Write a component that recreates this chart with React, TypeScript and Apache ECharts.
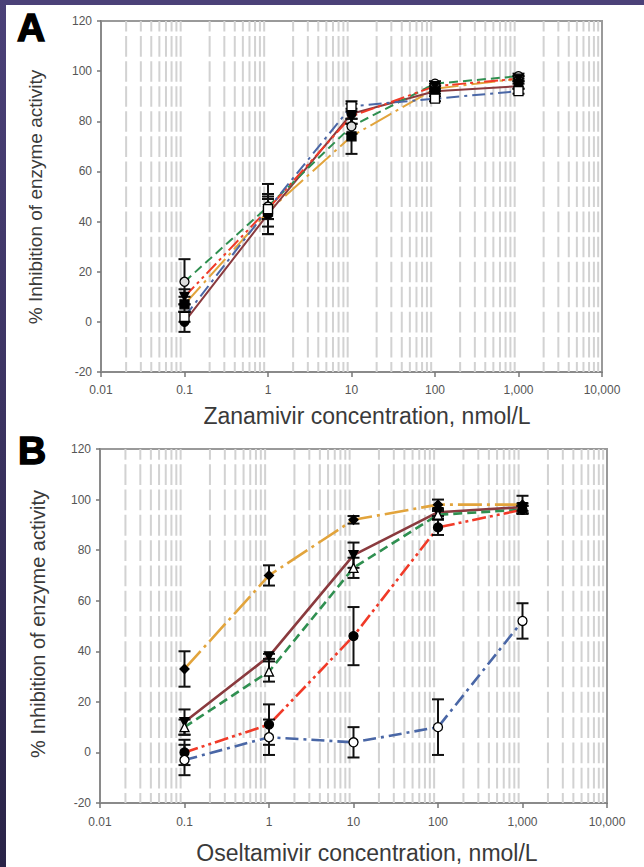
import React, { useEffect, useRef } from 'react';
import * as echarts from 'echarts';

// ---------- data ----------
const concentrations = [0.1, 1, 10, 100, 1000];
const xTickLabels = ['0.01', '0.1', '1', '10', '100', '1,000', '10,000'];
const gridDecades = [0.01, 0.1, 1, 10, 100, 1000];
const gridMultipliers = [2, 3, 4, 5, 6, 7, 8, 9];

// Panel A – Zanamivir
const zanGreen = [16, 46, 78, 95, 98];
const zanGreenErr = [9, 5, 3, 1, 1];
const zanRed = [10, 45, 82, 94, 97];
const zanRedErr = [3, 4, 3, 1, 1];
const zanOrange = [7, 44, 74, 93, 97];
const zanOrangeErr = [3, 6, 7, 1, 1];
const zanBlue = [2, 45, 86, 89, 92];
const zanBlueErr = [2, 10, 2, 1, 1];
const zanBrown = [0, 43, 83, 92, 94];
const zanBrownErr = [4, 8, 4, 1, 1];

// Panel B – Oseltamivir
const oseOrange = [33, 70, 92, 98, 98];
const oseOrangeErr = [7, 4, 1.5, 2, 3.5];
const oseBrown = [12, 38, 78, 95, 97];
const oseBrownErr = [5, 1, 5, 1.5, 1.5];
const oseGreen = [10, 32, 73, 94, 96];
const oseGreenErr = [3, 4, 4, 1.5, 1.5];
const oseRed = [0, 11, 46, 89, 96];
const oseRedErr = [5, 8, 11.5, 3, 1.5];
const oseBlue = [-3, 6, 4, 10, 52];
const oseBlueErr = [6, 7, 6, 11, 7];

// ---------- styles ----------
const FONT = 'Liberation Sans, Arial, Helvetica, sans-serif';
const styles: Record<string, any> = {
  green: { color: '#2f8f50', dash: [9, 5] },
  red: { color: '#f03a28', dash: [14, 4, 3, 4, 3, 4] },
  orange: { color: '#e2a43c', dash: [24, 5, 3, 5] },
  blue: { color: '#4a67a6', dash: [13, 5, 3, 5] },
  brown: { color: '#8a3a3e', dash: 'solid' },
};

type Spec = { key: string; y: number[]; err: number[]; symbol: string; fill: string; rotate?: number };

const panelA: Spec[] = [
  { key: 'orange', y: zanOrange, err: zanOrangeErr, symbol: 'rect', fill: '#000' },
  { key: 'brown', y: zanBrown, err: zanBrownErr, symbol: 'circle', fill: '#000' },
  { key: 'green', y: zanGreen, err: zanGreenErr, symbol: 'circle', fill: '#ddd' },
  { key: 'red', y: zanRed, err: zanRedErr, symbol: 'triangle', fill: '#000', rotate: 180 },
  { key: 'blue', y: zanBlue, err: zanBlueErr, symbol: 'rect', fill: '#fff' },
];

const panelB: Spec[] = [
  { key: 'orange', y: oseOrange, err: oseOrangeErr, symbol: 'diamond', fill: '#000' },
  { key: 'brown', y: oseBrown, err: oseBrownErr, symbol: 'triangle', fill: '#000', rotate: 180 },
  { key: 'green', y: oseGreen, err: oseGreenErr, symbol: 'triangle', fill: '#fff' },
  { key: 'red', y: oseRed, err: oseRedErr, symbol: 'circle', fill: '#000' },
  { key: 'blue', y: oseBlue, err: oseBlueErr, symbol: 'circle', fill: '#fff' },
];

function buildSeries(specs: Spec[], gi: number, lineWidth: number) {
  const out: any[] = [];
  const gridX: number[][] = [];
  gridDecades.forEach((d) => gridMultipliers.forEach((m) => gridX.push([d * m, 0])));
  out.push({
    type: 'custom',
    xAxisIndex: gi,
    yAxisIndex: gi,
    silent: true,
    z: 1,
    data: gridX,
    encode: { x: 0, y: 1 },
    renderItem: (params: any, api: any) => {
      const x = api.value(0);
      const top = api.coord([x, 120]);
      const bot = api.coord([x, -20]);
      const u10 = (bot[1] - top[1]) / 14;
      const gap = 4.5;
      return {
        type: 'line',
        shape: { x1: top[0], y1: top[1], x2: bot[0], y2: bot[1] },
        style: { stroke: '#d2d2d2', lineWidth: 2, lineDash: [u10 - gap, gap], lineDashOffset: u10 / 2 - gap / 2 },
      };
    },
  });
  specs.forEach((s) => {
    const st = styles[s.key];
    const pts = concentrations.map((c, i) => [c, s.y[i]]);
    out.push({
      type: 'line',
      xAxisIndex: gi,
      yAxisIndex: gi,
      z: 2,
      showSymbol: false,
      silent: true,
      data: pts,
      lineStyle: { color: st.color, width: lineWidth, type: st.dash },
    });
  });
  specs.forEach((s) => {
    out.push({
      type: 'custom',
      xAxisIndex: gi,
      yAxisIndex: gi,
      z: 3,
      silent: true,
      data: concentrations.map((c, i) => [c, s.y[i], s.err[i]]),
      encode: { x: 0, y: 1 },
      renderItem: (params: any, api: any) => {
        const x = api.value(0);
        const y = api.value(1);
        const e = api.value(2);
        const hi = api.coord([x, y + e]);
        const lo = api.coord([x, y - e]);
        const w = 6;
        const st = { stroke: '#111', lineWidth: 2 };
        return {
          type: 'group',
          children: [
            { type: 'line', shape: { x1: hi[0], y1: hi[1], x2: lo[0], y2: lo[1] }, style: st },
            { type: 'line', shape: { x1: hi[0] - w, y1: hi[1], x2: hi[0] + w, y2: hi[1] }, style: st },
            { type: 'line', shape: { x1: lo[0] - w, y1: lo[1], x2: lo[0] + w, y2: lo[1] }, style: st },
          ],
        };
      },
    });
  });
  specs.forEach((s) => {
    out.push({
      type: 'scatter',
      xAxisIndex: gi,
      yAxisIndex: gi,
      z: 4,
      silent: true,
      symbol: s.symbol,
      symbolSize: 9,
      symbolRotate: s.rotate || 0,
      data: concentrations.map((c, i) => [c, s.y[i]]),
      itemStyle: { color: s.fill, borderColor: '#000', borderWidth: 1.3, opacity: 1 },
    });
  });
  return out;
}

function xAxis(gi: number, margin: number) {
  return {
    type: 'log',
    gridIndex: gi,
    logBase: 10,
    min: 0.01,
    max: 10000,
    axisLine: { show: true, onZero: false, lineStyle: { color: '#8a8a8a', width: 2 } },
    axisTick: { show: true, length: 5, lineStyle: { color: '#777', width: 1.5 } },
    axisLabel: {
      margin,
      fontFamily: FONT,
      fontSize: 12,
      color: '#555',
      formatter: (v: number) => xTickLabels[Math.round(Math.log10(v)) + 2],
    },
    splitLine: { show: false },
  };
}

function yAxis(gi: number) {
  return {
    type: 'value',
    gridIndex: gi,
    min: -20,
    max: 120,
    interval: 20,
    axisLine: { show: true, onZero: false, lineStyle: { color: '#8a8a8a', width: 2 } },
    axisTick: { show: true, length: 4, lineStyle: { color: '#777', width: 1.5 } },
    axisLabel: { margin: 9, fontFamily: FONT, fontSize: 12, color: '#555' },
    splitLine: { show: false },
  };
}

export default function App() {
  const ref = useRef<HTMLDivElement>(null);
  useEffect(() => {
    if (!ref.current) return;
    const chart = echarts.init(ref.current, null, { renderer: 'svg' });
    chart.setOption({
      animation: false,
      backgroundColor: '#ffffff',
      grid: [
        { left: 101, top: 21, width: 501, height: 351, show: true, borderColor: '#9a9a9a', borderWidth: 2 },
        { left: 100, top: 449, width: 507, height: 354, show: true, borderColor: '#9a9a9a', borderWidth: 2 },
      ],
      xAxis: [xAxis(0, 12), xAxis(1, 13)],
      yAxis: [yAxis(0), yAxis(1)],
      series: [...buildSeries(panelA, 0, 2), ...buildSeries(panelB, 1, 2.6)],
      graphic: [
        { type: 'rect', silent: true, shape: { x: 0, y: 0, width: 644, height: 5 }, style: { fill: '#4b4178' }, z: 10 },
        {
          type: 'rect',
          silent: true,
          shape: { x: 0, y: 0, width: 6, height: 867 },
          style: {
            fill: new echarts.graphic.LinearGradient(0, 0, 0, 1, [
              { offset: 0, color: '#4b4178' },
              { offset: 1, color: '#2a2448' },
            ]),
          },
          z: 10,
        },
        {
          type: 'text', silent: true, x: 31, y: 27, z: 10,
          style: { text: 'A', font: `900 39px ${FONT}`, fill: '#000', stroke: '#000', lineWidth: 1.5, textAlign: 'center', textVerticalAlign: 'middle' },
        },
        {
          type: 'text', silent: true, x: 32, y: 450, z: 10,
          style: { text: 'B', font: `900 39px ${FONT}`, fill: '#000', stroke: '#000', lineWidth: 1.5, textAlign: 'center', textVerticalAlign: 'middle' },
        },
        {
          type: 'text', silent: true, x: 367, y: 416, z: 10,
          style: { text: 'Zanamivir concentration, nmol/L', font: `23px ${FONT}`, fill: '#3a3a3a', textAlign: 'center', textVerticalAlign: 'middle' },
        },
        {
          type: 'text', silent: true, x: 367, y: 853, z: 10,
          style: { text: 'Oseltamivir concentration, nmol/L', font: `23px ${FONT}`, fill: '#3a3a3a', textAlign: 'center', textVerticalAlign: 'middle' },
        },
        {
          type: 'text', silent: true, x: 35, y: 197, rotation: Math.PI / 2, z: 10,
          style: { text: '% Inhibition of enzyme activity', font: `19px ${FONT}`, fill: '#3a3a3a', textAlign: 'center', textVerticalAlign: 'middle' },
        },
        {
          type: 'text', silent: true, x: 38, y: 624, rotation: Math.PI / 2, z: 10,
          style: { text: '% Inhibition of enzyme activity', font: `20px ${FONT}`, fill: '#3a3a3a', textAlign: 'center', textVerticalAlign: 'middle' },
        },
      ],
    });
    return () => chart.dispose();
  }, []);
  return <div ref={ref} style={{ position: 'absolute', left: 0, top: 0, width: 644, height: 867 }} />;
}
